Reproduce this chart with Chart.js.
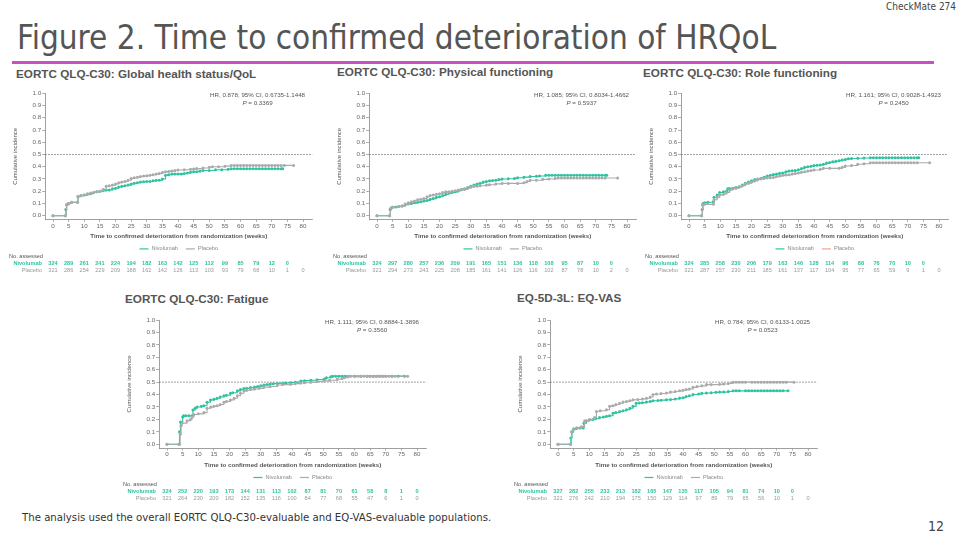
<!DOCTYPE html>
<html><head><meta charset="utf-8">
<script src="https://cdn.jsdelivr.net/npm/chart.js@4.4.1/dist/chart.umd.min.js"></script>
<style>
body{margin:0;width:974px;height:545px;background:#fff;position:relative;overflow:hidden;font-family:"Liberation Sans",Arial,sans-serif;}
.abs{position:absolute;white-space:nowrap;line-height:1;}
#title{left:17px;top:21px;font-family:"DejaVu Sans Condensed","Liberation Sans Narrow",sans-serif;font-stretch:condensed;font-size:33px;color:#555;}
#rule{left:12px;top:61px;width:922px;height:3px;background:#c850c0;}
#tag{left:886px;top:2px;font-family:"DejaVu Sans Condensed",sans-serif;font-stretch:condensed;font-size:10px;color:#444;}
.ptitle{font-weight:bold;font-size:11.7px;color:#555;}
canvas{position:absolute;}
#foot{left:22px;top:512px;font-family:"DejaVu Sans Condensed",sans-serif;font-stretch:condensed;font-size:11.3px;color:#333;}
#pg{left:928px;top:519px;font-family:"DejaVu Sans Condensed",sans-serif;font-stretch:condensed;font-size:14px;color:#444;}
</style></head>
<body>
<div class="abs" id="tag">CheckMate 274</div>
<div class="abs" id="title">Figure 2. Time to confirmed deterioration of HRQoL</div>
<div class="abs" id="rule"></div>
<div class="abs ptitle" style="left:16px;top:68px">EORTC QLQ-C30: Global health status/QoL</div>
<div class="abs ptitle" style="left:337px;top:66px">EORTC QLQ-C30: Physical functioning</div>
<div class="abs ptitle" style="left:643px;top:67px">EORTC QLQ-C30: Role functioning</div>
<div class="abs ptitle" style="left:125px;top:293px">EORTC QLQ-C30: Fatigue</div>
<div class="abs ptitle" style="left:517px;top:292px">EQ-5D-3L: EQ-VAS</div>
<canvas id="c1" width="318" height="196" style="left:0px;top:84px"></canvas>
<canvas id="c2" width="318" height="196" style="left:324px;top:84px"></canvas>
<canvas id="c3" width="318" height="196" style="left:636px;top:84px"></canvas>
<canvas id="c4" width="318" height="194" style="left:114px;top:311px"></canvas>
<canvas id="c5" width="318" height="194" style="left:505px;top:311px"></canvas>
<div class="abs" id="foot">The analysis used the overall EORTC QLQ-C30-evaluable and EQ-VAS-evaluable populations.</div>
<div class="abs" id="pg">12</div>
<script>
// ---------- shared axes ----------
const xTicks = [0,5,10,15,20,25,30,35,40,45,50,55,60,65,70,75,80];
const yTicks = [0,0.1,0.2,0.3,0.4,0.5,0.6,0.7,0.8,0.9,1.0];
const seriesNames = ['Nivolumab','Placebo'];
const refLine = 0.5;

// ---------- Global health status/QoL ----------
const ghsNivo = [[0,0],[3.9,0],[4.1,0.05],[4.4,0.09],[5,0.10],[6,0.11],[7.8,0.11],[8,0.155],[9,0.165],[10,0.17],[11,0.175],[12,0.18],[13,0.19],[14,0.195],[15,0.20],[16,0.205],[17,0.21],[18,0.21],[19,0.22],[20,0.225],[21,0.235],[22,0.24],[23,0.245],[24,0.25],[25,0.26],[26,0.265],[27,0.27],[28,0.275],[29,0.278],[30,0.28],[31,0.28],[32,0.285],[33,0.29],[34,0.29],[35,0.30],[36,0.33],[37,0.335],[38,0.34],[39,0.34],[40,0.34],[41,0.34],[42,0.345],[43,0.35],[44,0.355],[45,0.36],[46,0.36],[47,0.365],[48,0.37],[50,0.37],[52,0.375],[54,0.375],[56,0.38],[57,0.384],[58,0.384],[59,0.384],[60,0.384],[61,0.384],[62,0.384],[63,0.384],[64,0.384],[65,0.384],[66,0.384],[67,0.384],[68,0.384],[69,0.384],[70,0.384],[71,0.384],[72,0.384],[73,0.384],[73.5,0.384]];
const ghsPlac = [[0,0],[4,0],[4.3,0.09],[5,0.10],[6,0.11],[7.8,0.11],[8,0.16],[9,0.165],[10,0.17],[11,0.18],[12,0.185],[13,0.19],[14,0.195],[15,0.20],[16,0.215],[17,0.24],[18,0.245],[19,0.25],[20,0.26],[21,0.27],[22,0.275],[23,0.28],[24,0.29],[25,0.305],[26,0.31],[27,0.315],[28,0.32],[29,0.325],[30,0.327],[31,0.33],[32,0.335],[33,0.34],[34,0.345],[35,0.354],[36,0.36],[37,0.362],[38,0.365],[39,0.37],[40,0.373],[42,0.375],[44,0.38],[45,0.381],[46,0.385],[48,0.39],[50,0.395],[51,0.40],[53,0.40],[55,0.405],[57,0.411],[58,0.411],[59,0.411],[60,0.411],[61,0.411],[62,0.411],[63,0.411],[64,0.411],[65,0.411],[66,0.411],[67,0.411],[68,0.411],[69,0.411],[70,0.411],[71,0.411],[72,0.411],[73,0.411],[74,0.411],[77,0.411]];
const ghsNivoRisk = [324,289,261,241,224,194,182,163,142,125,112,99,85,79,12,0];
const ghsPlacRisk = [321,286,254,229,209,188,162,142,126,113,103,93,79,68,10,1,0];
const ghsStats = ['HR, 0.878; 95% CI, 0.6735-1.1448','0.3369'];

// ---------- Physical functioning ----------
const pfNivo = [[0,0],[4,0],[4.2,0.05],[4.6,0.065],[5,0.07],[6,0.072],[7,0.075],[8,0.08],[9,0.09],[10,0.097],[11,0.10],[12,0.105],[13,0.11],[14,0.115],[15,0.12],[16,0.125],[17,0.135],[18,0.14],[19,0.15],[20,0.155],[21,0.165],[22,0.175],[23,0.185],[24,0.19],[25,0.195],[26,0.205],[27,0.215],[28,0.22],[29,0.23],[30,0.24],[31,0.25],[32,0.26],[33,0.265],[34,0.275],[35,0.28],[36,0.285],[37,0.288],[38,0.29],[39,0.295],[40,0.30],[42,0.302],[44,0.305],[45,0.31],[47,0.315],[49,0.32],[51,0.322],[52,0.325],[54,0.33],[55,0.33],[56,0.33],[57,0.33],[58,0.33],[59,0.33],[60,0.33],[61,0.33],[62,0.33],[63,0.33],[64,0.33],[65,0.33],[66,0.33],[67,0.33],[68,0.33],[69,0.33],[70,0.33],[71,0.33],[72,0.33],[73,0.33],[73.5,0.33]];
const pfPlac = [[0,0],[4,0],[4.3,0.06],[5,0.07],[7,0.075],[8,0.08],[9,0.095],[10,0.106],[11,0.115],[12,0.12],[13,0.13],[14,0.135],[15,0.14],[16,0.155],[17,0.165],[18,0.17],[19,0.175],[20,0.18],[21,0.19],[22,0.195],[23,0.196],[24,0.20],[25,0.205],[26,0.21],[27,0.213],[28,0.215],[29,0.225],[30,0.235],[31,0.24],[32,0.24],[33,0.245],[35,0.25],[36,0.253],[38,0.26],[40,0.264],[42,0.264],[45,0.264],[47,0.27],[48,0.28],[49,0.29],[51,0.29],[53,0.297],[55,0.30],[57,0.305],[58,0.308],[59,0.308],[60,0.308],[61,0.308],[62,0.308],[63,0.308],[64,0.308],[65,0.308],[66,0.308],[67,0.308],[68,0.308],[69,0.308],[70,0.308],[71,0.308],[72,0.308],[73,0.308],[77,0.308]];
const pfNivoRisk = [324,297,280,257,236,209,191,165,151,136,118,108,95,87,10,0];
const pfPlacRisk = [321,294,273,243,225,208,185,161,141,126,116,102,87,78,10,2,0];
const pfStats = ['HR, 1.085; 95% CI, 0.8034-1.4662','0.5937'];

// ---------- Role functioning ----------
const rfNivo = [[0,0],[4,0],[4.2,0.05],[4.5,0.10],[5,0.105],[6,0.11],[7.8,0.114],[8,0.15],[9,0.17],[9.8,0.19],[11,0.195],[12,0.20],[12.4,0.22],[13,0.222],[14,0.225],[15,0.23],[16,0.237],[17,0.25],[18,0.265],[19,0.275],[20,0.285],[21,0.295],[22,0.30],[23,0.305],[24,0.315],[25,0.324],[26,0.33],[27,0.336],[28,0.34],[29,0.346],[30,0.35],[31,0.36],[32,0.365],[33,0.368],[34,0.37],[35,0.375],[36,0.385],[37,0.395],[38,0.40],[39,0.405],[40,0.41],[41,0.412],[42,0.415],[43,0.42],[44,0.43],[45,0.435],[46,0.44],[47,0.445],[48,0.45],[49,0.455],[50,0.46],[51,0.465],[52,0.468],[54,0.469],[56,0.472],[58,0.474],[59,0.474],[60,0.474],[61,0.474],[62,0.474],[63,0.474],[64,0.474],[65,0.474],[66,0.474],[67,0.474],[68,0.474],[69,0.474],[70,0.474],[71,0.474],[72,0.474],[73,0.474],[73.5,0.474]];
const rfPlac = [[0,0],[4,0],[4.3,0.09],[5,0.093],[7.8,0.093],[8,0.13],[9,0.15],[9.8,0.17],[11,0.175],[12,0.19],[13,0.21],[14,0.22],[15,0.225],[16,0.235],[17,0.245],[18,0.26],[19,0.265],[20,0.275],[21,0.285],[22,0.297],[23,0.30],[24,0.305],[25,0.308],[26,0.31],[27,0.313],[28,0.32],[29,0.325],[30,0.33],[31,0.332],[32,0.335],[33,0.34],[34,0.345],[35,0.35],[36,0.355],[37,0.36],[38,0.365],[39,0.37],[40,0.373],[42,0.38],[43,0.387],[45,0.387],[48,0.387],[49,0.395],[50,0.406],[52,0.41],[54,0.42],[56,0.425],[58,0.433],[59,0.433],[60,0.433],[61,0.433],[62,0.433],[63,0.433],[64,0.433],[65,0.433],[66,0.433],[67,0.433],[68,0.433],[69,0.433],[70,0.433],[71,0.433],[72,0.433],[73,0.433],[77,0.433]];
const rfNivoRisk = [324,285,258,230,206,179,163,146,128,114,96,88,76,70,10,0];
const rfPlacRisk = [321,287,257,230,211,185,161,137,117,104,95,77,65,59,9,1,0];
const rfStats = ['HR, 1.161; 95% CI, 0.9028-1.4923','0.2450'];

// ---------- Fatigue ----------
const fatNivo = [[0,0],[3.8,0],[4,0.10],[4.3,0.18],[5,0.22],[5.3,0.23],[6,0.23],[7,0.23],[8,0.23],[8.3,0.276],[9,0.29],[9.6,0.30],[11,0.305],[11.8,0.31],[12.8,0.338],[13.9,0.357],[15,0.362],[16,0.37],[17,0.38],[18.2,0.39],[19,0.395],[20.3,0.41],[21,0.415],[22.5,0.43],[23.5,0.44],[24.6,0.448],[25.5,0.45],[26.7,0.456],[28,0.46],[29,0.465],[30,0.47],[31,0.477],[32,0.48],[33,0.485],[34,0.488],[35.3,0.49],[37,0.492],[38,0.494],[39.6,0.496],[41,0.50],[42.8,0.51],[44,0.512],[46,0.515],[48,0.52],[50.3,0.525],[51,0.535],[52.4,0.544],[53,0.548],[54,0.548],[55,0.548],[56,0.548],[57,0.548],[58,0.548],[60,0.548],[62,0.548],[64,0.548],[65,0.548],[66,0.548],[67,0.548],[68,0.548],[69,0.548],[70,0.548],[72,0.548],[74,0.548],[76,0.548]];
const fatPlac = [[0,0],[4,0],[4.2,0.08],[4.5,0.15],[4.8,0.17],[6.4,0.19],[7.5,0.20],[8,0.22],[8.6,0.24],[10,0.245],[11.8,0.255],[12.8,0.29],[14,0.30],[15,0.305],[16,0.31],[17,0.32],[18.2,0.338],[19,0.345],[20.3,0.357],[21.5,0.37],[22.5,0.39],[23.5,0.41],[24.6,0.43],[25.5,0.435],[26.7,0.44],[28,0.445],[29.5,0.45],[31,0.46],[33,0.465],[35.3,0.477],[37,0.48],[39.6,0.483],[41,0.488],[42.8,0.493],[44,0.495],[46,0.50],[48,0.505],[50.3,0.51],[52,0.515],[54.5,0.523],[56,0.53],[56.7,0.536],[58,0.545],[58.8,0.547],[60,0.547],[61,0.547],[62,0.547],[63,0.547],[64,0.547],[65,0.547],[66,0.547],[67,0.547],[68,0.547],[69,0.547],[70,0.547],[71,0.547],[72,0.547],[73,0.547],[77,0.547]];
const fatNivoRisk = [324,252,220,193,173,144,131,113,102,87,81,70,61,58,8,1,0];
const fatPlacRisk = [321,264,230,200,182,152,135,116,100,84,77,68,55,47,6,1,0];
const fatStats = ['HR, 1.111; 95% CI, 0.8884-1.3896','0.3560'];

// ---------- EQ-VAS ----------
const vasNivo = [[0,0],[4,0],[4.1,0.05],[4.5,0.10],[5,0.12],[6,0.13],[7,0.13],[8,0.13],[8.3,0.17],[9.1,0.19],[10,0.195],[11.2,0.20],[12,0.205],[13.3,0.216],[14.5,0.22],[15.5,0.225],[16.5,0.23],[17.6,0.25],[18.5,0.255],[19.7,0.264],[20.8,0.27],[21.9,0.278],[23,0.29],[24,0.305],[25,0.33],[26,0.332],[27,0.335],[28.3,0.34],[29.5,0.345],[30.4,0.35],[32,0.352],[33,0.355],[34.7,0.358],[36,0.36],[37.5,0.365],[38.9,0.372],[40,0.375],[41,0.385],[42,0.39],[43.2,0.40],[45,0.405],[46,0.41],[47.5,0.412],[49,0.415],[50.5,0.418],[51.7,0.42],[53,0.42],[54.5,0.425],[56,0.43],[57,0.43],[58,0.43],[60,0.43],[61,0.43],[62,0.43],[63,0.43],[64,0.43],[65,0.43],[66,0.43],[67,0.43],[68,0.43],[69,0.43],[70,0.43],[71,0.43],[72,0.43],[73.6,0.43]];
const vasPlac = [[0,0],[4,0],[4.3,0.10],[5,0.125],[6,0.13],[7.5,0.14],[8.5,0.19],[10.1,0.20],[11.7,0.215],[12.3,0.264],[13.5,0.27],[15.5,0.278],[16.5,0.305],[17.5,0.31],[18.5,0.32],[19.7,0.33],[20.8,0.34],[21.9,0.345],[23,0.35],[24,0.358],[25.5,0.36],[27,0.365],[28.3,0.37],[29.5,0.38],[30.4,0.40],[31.5,0.405],[33,0.408],[34.7,0.412],[36,0.42],[37.5,0.425],[38.9,0.43],[40,0.435],[41,0.44],[42,0.445],[43.2,0.458],[44.5,0.465],[46,0.47],[47.5,0.48],[49,0.48],[51.7,0.482],[53,0.485],[54.5,0.49],[56,0.50],[57,0.50],[58,0.50],[59,0.50],[60,0.50],[62,0.50],[63,0.50],[64,0.50],[65,0.50],[66,0.50],[67,0.50],[68,0.50],[69,0.50],[70,0.50],[71,0.50],[72,0.50],[73,0.50],[75.5,0.50]];
const vasNivoRisk = [327,282,255,233,213,182,165,147,135,117,105,94,81,74,10,0];
const vasPlacRisk = [321,276,242,210,194,175,150,129,114,97,89,79,65,56,10,1,0];
const vasStats = ['HR, 0.784; 95% CI, 0.6133-1.0025','0.0523'];

// ---------- styling ----------
const NIVO = '#2fc4a0';
const PLAC = '#ababab';
const SMALL = '"Liberation Sans", Arial, sans-serif';

const overlay = {
  id: 'overlay',
  beforeDatasetsDraw(chart) {
    const {ctx, chartArea: a, scales: {y}} = chart;
    const yy = y.getPixelForValue(refLine);
    ctx.save();
    ctx.setLineDash([1.5, 1.5]);
    ctx.strokeStyle = '#666';
    ctx.lineWidth = 0.8;
    ctx.beginPath(); ctx.moveTo(a.left, yy); ctx.lineTo(a.right, yy); ctx.stroke();
    ctx.restore();
  },
  afterDraw(chart, args, o) {
    const {ctx, chartArea: a, scales: {x}} = chart;
    ctx.save();
    // HR / P text
    ctx.font = '6.2px ' + SMALL;
    ctx.fillStyle = '#555';
    ctx.textBaseline = 'middle';
    const xr = x.getPixelForValue(80) + 2;
    const w1 = ctx.measureText(o.stats[0]).width;
    ctx.textAlign = 'right';
    ctx.fillText(o.stats[0], xr, a.top + 2);
    const cx = xr - w1 / 2;
    ctx.font = 'italic 6.2px ' + SMALL;
    const wp = ctx.measureText('P').width;
    ctx.font = '6.2px ' + SMALL;
    const rest = ' = ' + o.stats[1];
    const wr = ctx.measureText(rest).width;
    const sx = cx - (wp + wr) / 2;
    ctx.textAlign = 'left';
    ctx.font = 'italic 6.2px ' + SMALL;
    ctx.fillText('P', sx, a.top + 10);
    ctx.font = '6.2px ' + SMALL;
    ctx.fillText(rest, sx + wp, a.top + 10);

    // legend
    const ly = a.bottom + o.legendDy;
    ctx.font = '5.6px ' + SMALL;
    const items = [[seriesNames[0], NIVO], [seriesNames[1], o.placLegend || PLAC]];
    const seg = 9, gap = 3, between = 8;
    let total = 0;
    items.forEach(([t]) => total += seg + gap + ctx.measureText(t).width);
    total += between;
    let lx = (a.left + a.right) / 2 - total / 2;
    items.forEach(([t, c]) => {
      ctx.strokeStyle = c; ctx.lineWidth = 1.2;
      ctx.beginPath(); ctx.moveTo(lx, ly); ctx.lineTo(lx + seg, ly); ctx.stroke();
      lx += seg + gap;
      ctx.fillStyle = '#888'; ctx.textAlign = 'left';
      ctx.fillText(t, lx, ly);
      lx += ctx.measureText(t).width + between;
    });

    // risk table
    const x0 = x.getPixelForValue(0);
    ctx.fillStyle = '#555';
    ctx.textAlign = 'left';
    ctx.font = '5.6px ' + SMALL;
    ctx.fillText('No. assessed', x0 - 44, a.bottom + o.tableDy);
    const rows = [[seriesNames[0], o.nivoRisk, NIVO, 'bold '], [seriesNames[1], o.placRisk, '#999', '']];
    rows.forEach(([label, vals, col, wt], r) => {
      const ry = a.bottom + o.tableDy + 7 + r * 7;
      ctx.fillStyle = col;
      ctx.font = wt + '5.6px ' + SMALL;
      ctx.textAlign = 'right';
      ctx.fillText(label, x0 - 11, ry);
      ctx.textAlign = 'center';
      vals.forEach((v, i) => ctx.fillText(String(v), x.getPixelForValue(xTicks[i]), ry));
    });
    ctx.restore();
  }
};

function toPts(arr) { return arr.map(p => ({x: p[0], y: p[1]})); }

function makePanel(id, nivo, plac, nivoRisk, placRisk, stats, geo, placLegend) {
  const ds = (label, data, color) => ({
    label, data: toPts(data), borderColor: color, backgroundColor: color,
    borderWidth: 1.1, stepped: 'before', pointRadius: 1.5, pointHoverRadius: 1.5,
    pointBorderWidth: 0, pointStyle: 'circle', fill: false
  });
  const tickFont = {size: 6.2, family: SMALL};
  return new Chart(document.getElementById(id), {
    type: 'line',
    data: { datasets: [ds(seriesNames[1], plac, PLAC), ds(seriesNames[0], nivo, NIVO)] },
    plugins: [overlay],
    options: {
      responsive: false, animation: false, events: [],
      layout: { padding: { top: geo.padTop, right: 5.6, bottom: geo.padBottom, left: 0 } },
      plugins: {
        legend: { display: false }, tooltip: { enabled: false },
        overlay: { stats, nivoRisk, placRisk, placLegend, legendDy: 29.5, tableDy: 36.7 }
      },
      scales: {
        x: {
          type: 'linear', min: -2.5, max: 83,
          afterBuildTicks: s => { s.ticks = xTicks.map(v => ({value: v})); },
          afterFit: s => { s.height = 22; },
          grid: { drawOnChartArea: false, drawTicks: true, tickLength: 2.5, color: '#888', lineWidth: 0.7 },
          border: { display: true, color: '#888', width: 0.8 },
          ticks: { font: tickFont, color: '#666', padding: 0.5, maxRotation: 0, autoSkip: false },
          title: { display: true, text: 'Time to confirmed deterioration from randomization (weeks)',
                   font: { size: 6.2, family: SMALL, weight: 'bold' }, color: '#555', padding: { top: 0, bottom: 1.2 } }
        },
        y: {
          type: 'linear', min: -0.03, max: 1.0,
          afterBuildTicks: s => { s.ticks = yTicks.map(v => ({value: v})); },
          afterFit: s => { s.width = 45.2; },
          grid: { drawOnChartArea: false, drawTicks: true, tickLength: 3, color: '#888', lineWidth: 0.7 },
          border: { display: true, color: '#888', width: 0.8 },
          ticks: { font: tickFont, color: '#666', padding: 1, callback: v => v.toFixed(1) },
          title: { display: true, text: 'Cumulative incidence', font: { size: 6, family: SMALL }, color: '#555',
                   padding: { top: 11.4, bottom: 0 } }
        }
      }
    }
  });
}

const geoTop = { padTop: 9.3, padBottom: 38.6 };
const geoBottom = { padTop: 9, padBottom: 35 };
makePanel('c1', ghsNivo, ghsPlac, ghsNivoRisk, ghsPlacRisk, ghsStats, geoTop);
makePanel('c2', pfNivo, pfPlac, pfNivoRisk, pfPlacRisk, pfStats, geoTop);
makePanel('c3', rfNivo, rfPlac, rfNivoRisk, rfPlacRisk, rfStats, geoTop, '#f2a488');
makePanel('c4', fatNivo, fatPlac, fatNivoRisk, fatPlacRisk, fatStats, geoBottom);
makePanel('c5', vasNivo, vasPlac, vasNivoRisk, vasPlacRisk, vasStats, geoBottom);
</script>
</body></html>
